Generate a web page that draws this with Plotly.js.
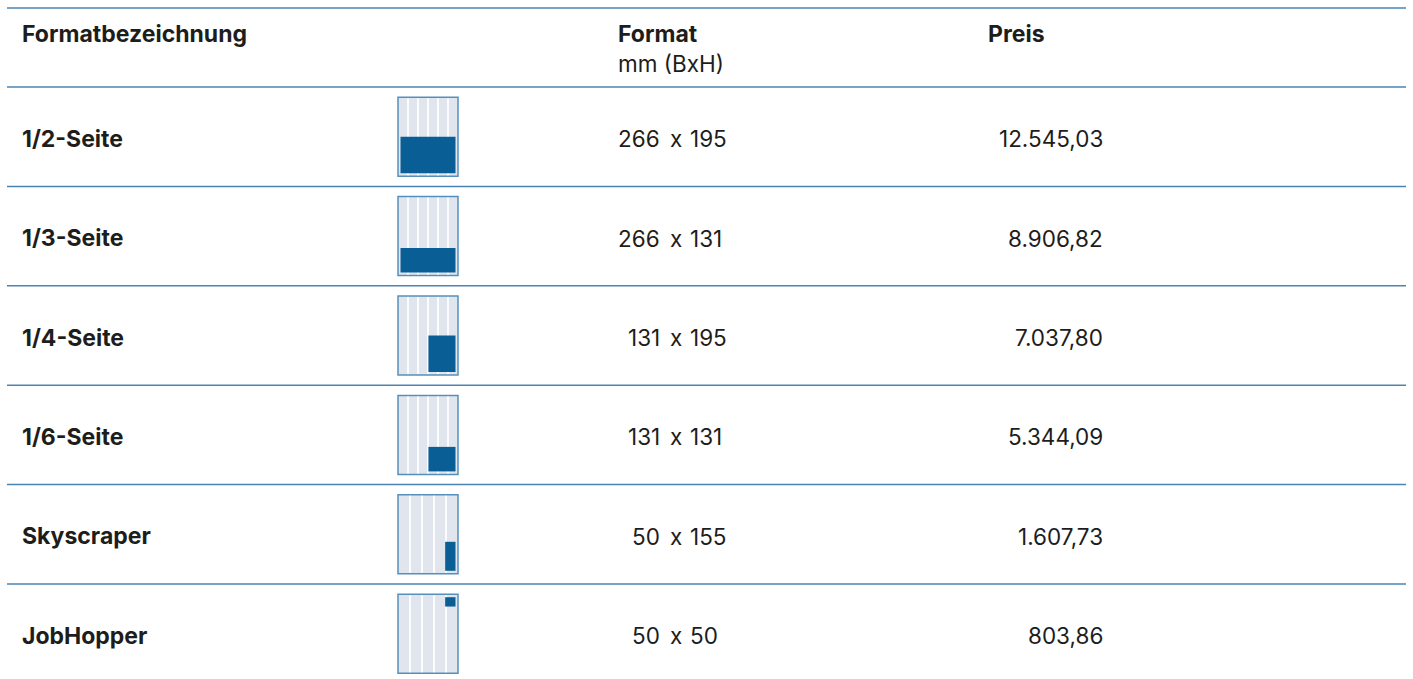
<!DOCTYPE html>
<html>
<head>
<meta charset="utf-8">
<script src="https://cdn.plot.ly/plotly-3.0.1.min.js"></script>
<style>html,body{margin:0;padding:0;background:#fff;}#chart{width:1413px;height:679px;}</style>
</head>
<body>
<div id="chart"></div>
<script>
// ---- data ----
const headerLabels = ['Formatbezeichnung', 'Format', 'Preis'];
const headerSubLabel = 'mm (BxH)';
const formatNames = ['1/2-Seite', '1/3-Seite', '1/4-Seite', '1/6-Seite', 'Skyscraper', 'JobHopper'];
const widthsMm = [266, 266, 131, 131, 50, 50];
const heightsMm = [195, 131, 195, 131, 155, 50];
const prices = [12545.03, 8906.82, 7037.80, 5344.09, 1607.73, 803.86];
const gridColumns = [6, 6, 6, 6, 5, 5];
const iconAnchor = ['bottom', 'bottom', 'bottom', 'bottom', 'bottom', 'top'];
const pageMm = { w: 266, h: 390 };

// ---- layout constants ----
const W = 1413, H = 679;
const lineColor = '#4a84b4';
const textColor = '#1d1d1b';
const darkBlue = '#0a5e96';
const fontFam = 'Inter, "Noto Sans", sans-serif';
const topLineY = 8, headerBottom = 87, rowH = 99.4;
const lineX0 = 7, lineX1 = 1406;
const iconX0 = 398, iconW = 60, iconH = 79, iconPad = 2.5;
const colName = 22, colW = 660, colX = 675.5, colHt = 690, colPrice = 1103, colPreis = 988, colFormat = 618;

function fmtDe(v) {
  const parts = v.toFixed(2).split('.');
  const intPart = parts[0].replace(/\B(?=(\d{3})+(?!\d))/g, '.');
  return intPart + ',' + parts[1];
}
const rowCenter = i => headerBottom + rowH * (i + 0.5);

const shapes = [];
const annotations = [];

// horizontal rules
const ruleYs = [topLineY, headerBottom];
for (let i = 1; i < formatNames.length; i++) ruleYs.push(headerBottom + rowH * i);
ruleYs.forEach(y => shapes.push({type: 'line', xref: 'x', yref: 'y', x0: lineX0, x1: lineX1, y0: y, y1: y,
  line: {color: lineColor, width: 1.5}}));

// header text
const hdrFont = {family: fontFam, size: 23, color: textColor, weight: 700};
const bodyFont = {family: fontFam, size: 22.5, color: textColor};
annotations.push({x: colName, y: 34, text: headerLabels[0], xanchor: 'left', yanchor: 'middle', font: hdrFont});
annotations.push({x: colFormat, y: 34, text: headerLabels[1], xanchor: 'left', yanchor: 'middle', font: hdrFont});
annotations.push({x: colFormat, y: 63, text: headerSubLabel, xanchor: 'left', yanchor: 'middle', font: bodyFont});
annotations.push({x: colPreis, y: 34, text: headerLabels[2], xanchor: 'left', yanchor: 'middle', font: hdrFont});

formatNames.forEach((name, i) => {
  const cy = rowCenter(i);
  const top = cy - iconH / 2, bot = cy + iconH / 2;
  // page icon
  shapes.push({type: 'rect', xref: 'x', yref: 'y', x0: iconX0, x1: iconX0 + iconW, y0: top, y1: bot,
    fillcolor: '#e1e6ee', line: {color: '#5590bc', width: 1.5}});
  const cols = gridColumns[i];
  for (let k = 1; k < cols; k++) {
    const gx = iconX0 + iconW * k / cols;
    shapes.push({type: 'line', xref: 'x', yref: 'y', x0: gx, x1: gx, y0: top + 1, y1: bot - 1,
      line: {color: 'rgba(255,255,255,0.85)', width: 2}});
  }
  // highlighted area
  const innerX0 = iconX0 + iconPad, innerX1 = iconX0 + iconW - iconPad;
  const innerY0 = top + 3, innerY1 = bot - 3;
  const rw = (innerX1 - innerX0) * widthsMm[i] / pageMm.w;
  const rh = (innerY1 - innerY0) * heightsMm[i] / pageMm.h;
  const ry0 = iconAnchor[i] === 'top' ? innerY0 : innerY1 - rh;
  shapes.push({type: 'rect', xref: 'x', yref: 'y', x0: innerX1 - rw, x1: innerX1, y0: ry0, y1: ry0 + rh,
    fillcolor: darkBlue, line: {width: 0}});

  // texts
  annotations.push({x: colName, y: cy + 2, text: name, xanchor: 'left', yanchor: 'middle', font: hdrFont});
  annotations.push({x: colW, y: cy + 2, text: String(widthsMm[i]), xanchor: 'right', yanchor: 'middle', font: bodyFont});
  annotations.push({x: colX, y: cy + 2, text: 'x', xanchor: 'center', yanchor: 'middle', font: bodyFont});
  annotations.push({x: colHt, y: cy + 2, text: String(heightsMm[i]), xanchor: 'left', yanchor: 'middle', font: bodyFont});
  annotations.push({x: colPrice, y: cy + 2, text: fmtDe(prices[i]), xanchor: 'right', yanchor: 'middle', font: bodyFont});
});

annotations.forEach(a => { a.xref = 'x'; a.yref = 'y'; a.showarrow = false; a.borderpad = 0; a.borderwidth = 0; });

const layout = {
  width: W, height: H,
  margin: {l: 0, r: 0, t: 0, b: 0},
  paper_bgcolor: '#fff', plot_bgcolor: '#fff',
  xaxis: {range: [0, W], visible: false, fixedrange: true},
  yaxis: {range: [H, 0], visible: false, fixedrange: true},
  shapes: shapes,
  annotations: annotations,
  showlegend: false
};
Plotly.newPlot('chart', [], layout, {displayModeBar: false, staticPlot: true});
</script>
</body>
</html>
